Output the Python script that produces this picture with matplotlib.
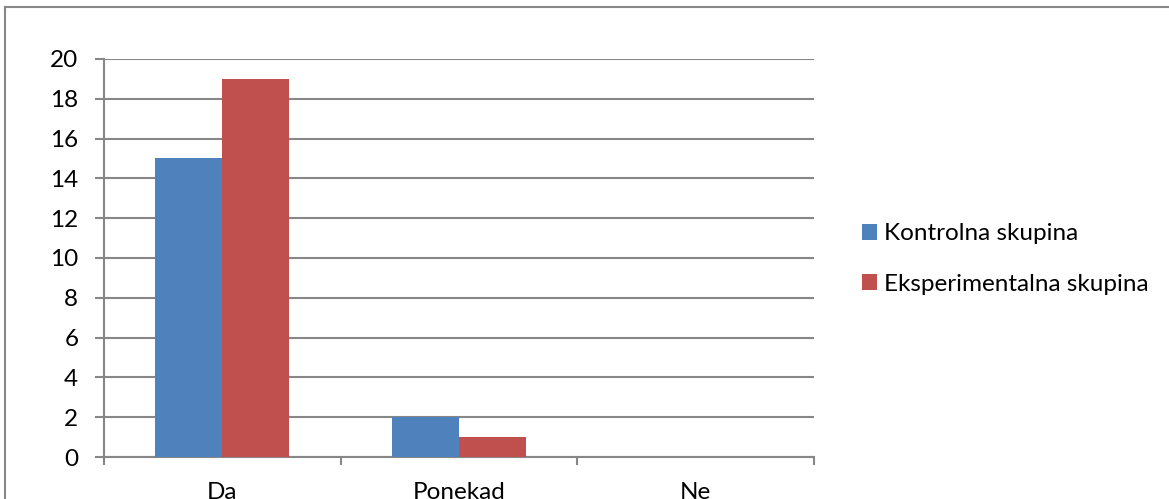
import numpy as np
import matplotlib.pyplot as plt
from matplotlib.lines import Line2D

#### Data ####
categories = ["Da", "Ponekad", "Ne"]
kontrolna = [15, 2, 0]
eksperimentalna = [19, 1, 0]
series_names = ["Kontrolna skupina", "Eksperimentalna skupina"]

#### Style ####
plt.rcParams['font.family'] = ['Lato', 'DejaVu Sans']
BLUE = "#4F81BD"; RED = "#C0504D"; GRAY = "#878787"
W = 0.283
FS = 17.5

fig = plt.figure(figsize=(11.69, 4.99), dpi=100)
ax = fig.add_axes([104/1169, 1-457/499, (814-104)/1169, (457-59)/499])

x = np.arange(len(categories))
ax.bar(x - W/2, kontrolna, W, color=BLUE, label=series_names[0], zorder=3)
ax.bar(x + W/2, eksperimentalna, W, color=RED, label=series_names[1], zorder=3)

# y axis
ax.set_ylim(0, 20)
ax.set_yticks(np.arange(0, 21, 2))
ax.yaxis.grid(True, color=GRAY, linewidth=1.5, zorder=0)
ax.tick_params(axis="y", length=6.5, width=1.5, color=GRAY, pad=12, labelsize=FS)

# x axis: ticks at category boundaries, labels at centres
ax.set_xlim(-0.5, len(categories) - 0.5)
ax.set_xticks(np.arange(-0.5, len(categories), 1.0))
ax.set_xticklabels([])
ax.set_xticks(x, minor=True)
ax.set_xticklabels(categories, minor=True)
ax.tick_params(axis="x", which="major", length=6, width=1.5, color=GRAY)
ax.tick_params(axis="x", which="minor", length=0, pad=18, labelsize=FS)

for s in ["top", "right"]: ax.spines[s].set_visible(False)
for s in ["left", "bottom"]:
    ax.spines[s].set_color(GRAY); ax.spines[s].set_linewidth(1.5)

#### Legend ####
fig.legend(loc="center left", bbox_to_anchor=(862/1169, 1-259/499), frameon=False,
           fontsize=FS, handlelength=0.62, handleheight=0.62, handletextpad=0.3,
           labelspacing=1.2, borderpad=0, borderaxespad=0)

#### Outer border (chart area) ####
fig.add_artist(Line2D([5/1169, 1168/1169], [1-7/499, 1-7/499], color=GRAY, linewidth=1.5))
fig.add_artist(Line2D([5/1169, 5/1169], [1-7/499, 0], color=GRAY, linewidth=1.5))

fig.savefig("out.png", dpi=100)
